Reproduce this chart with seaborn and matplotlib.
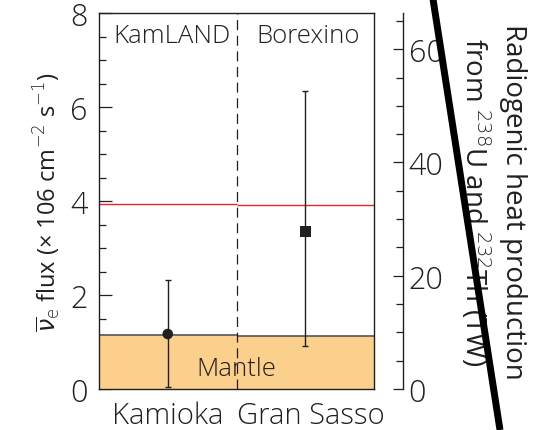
import numpy as np
import pandas as pd
import matplotlib
matplotlib.use("Agg")
import matplotlib.pyplot as plt
import matplotlib.transforms as mtransforms
from matplotlib.lines import Line2D
import seaborn as sns

# ---- data ----
sites = ["Kamioka", "Gran Sasso"]
experiments = ["KamLAND", "Borexino"]
flux = [1.17, 3.35]
err_low = [1.12, 2.43]     # distance down from point
err_high = [1.15, 2.98]    # distance up from point
mantle_flux = [1.15, 1.13]
red_flux = [3.93, 3.91]
flux_to_tw = 8.3
left_ticks = [0, 2, 4, 6, 8]
right_ticks = [0, 20, 40, 60]

sns.set_theme(style="white")
plt.rcParams['font.family'] = ['Open Sans', 'DejaVu Sans']
plt.rcParams['font.weight'] = 'light'
ink = "#231F20"
plt.rcParams['text.color'] = ink
plt.rcParams['axes.labelcolor'] = ink
plt.rcParams['xtick.color'] = ink
plt.rcParams['ytick.color'] = ink

fig = plt.figure(figsize=(5.39, 4.31), dpi=100)
ax = fig.add_axes([99/539, 41/431, 275/539, 376/431])

df = pd.DataFrame({"site": sites, "flux": flux})

# mantle fill and red line per segment
for i in range(len(sites)):
    ax.fill_between([i - 0.5, i + 0.5], 0, mantle_flux[i], color="#FBD08D", lw=0, zorder=1)
    ax.hlines(mantle_flux[i], i - 0.5, i + 0.5, color="#555555", lw=1.2, zorder=2)
    ax.hlines(red_flux[i], i - 0.5, i + 0.5, color="#E8262A", lw=1.0, zorder=2)

ax.axvline(0.5, color=ink, lw=0.9, dashes=(8, 4.5), zorder=3)

ax.errorbar(range(len(sites)), flux, yerr=[err_low, err_high], fmt="none",
            ecolor=ink, elinewidth=1.0, capsize=2, capthick=1.0, zorder=4)
sns.scatterplot(data=df, x="site", y="flux", style="site",
                markers={"Kamioka": "o", "Gran Sasso": "s"},
                color=ink, s=58, edgecolor=ink, linewidth=0, legend=False,
                ax=ax, zorder=5)

ax.set_xlim(-0.5, 1.5)
ax.set_ylim(0, 8)
ax.set_xticks(range(len(sites)))
ax.set_xticklabels(sites, fontsize=21)
ax.set_yticks(left_ticks)
ax.set_yticks(np.arange(0, 8.01, 0.5), minor=True)
ax.tick_params(axis="y", which="major", direction="in", length=9.5, width=0.9,
               labelsize=22, pad=8, left=True)
ax.tick_params(axis="y", which="minor", direction="in", length=5, width=0.9, left=True)
ax.tick_params(axis="x", length=0, pad=8)
# nudge the second category label slightly right, as in the reference
lbl = ax.get_xticklabels()[1]
lbl.set_transform(lbl.get_transform() + mtransforms.ScaledTranslation(6/100, 0, fig.dpi_scale_trans))
ax.set_xlabel("")
ax.set_ylabel(r"$\overline{\nu}_{\mathrm{e}}$ flux (× 106 cm$^{-2}$ s$^{-1}$)", fontsize=17, labelpad=5)
for s in ax.spines.values():
    s.set_color(ink)
    s.set_linewidth(1.0)

ax.text(0.03, 7.53, experiments[0], ha="center", va="center", fontsize=18.5)
ax.text(1.02, 7.53, experiments[1], ha="center", va="center", fontsize=18.5)
ax.text(0.5, 0.43, "Mantle", ha="center", va="center", fontsize=18.5)

# right axis in TW
ax2 = ax.twinx()
ax2.set_ylim(0, 8 * flux_to_tw)
for k in ["left", "top", "bottom"]:
    ax2.spines[k].set_visible(False)
ax2.spines["right"].set_position(("outward", 21))
ax2.spines["right"].set_color(ink)
ax2.spines["right"].set_linewidth(1.0)
ax2.set_yticks(right_ticks)
ax2.set_yticks(np.arange(0, 66, 5), minor=True)
ax2.tick_params(axis="y", which="major", direction="in", length=7.5, width=0.9,
                labelsize=22, pad=4, right=True)
ax2.tick_params(axis="y", which="minor", direction="in", length=4.8, width=0.9, right=True)
ax2.grid(False)
ax2.set_ylabel("Radiogenic heat production\nfrom $^{238}$U and $^{232}$Th (TW)",
               rotation=270, fontsize=20, linespacing=1.25)
ax2.yaxis.set_label_coords(1.556, 0.50)

# diagonal black stroke across the figure
fig.add_artist(Line2D([433/539, 500/539], [1.0, 0.0], transform=fig.transFigure,
                      color="black", lw=5.0, solid_capstyle="butt"))

fig.savefig("out.png", dpi=100)
